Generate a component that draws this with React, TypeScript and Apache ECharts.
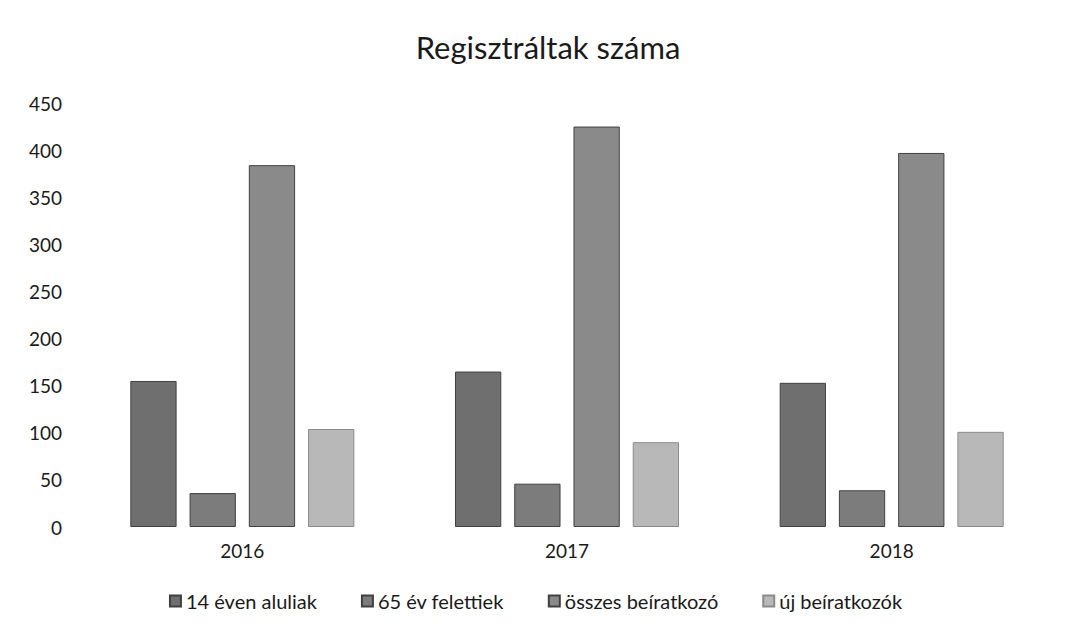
import React, { useEffect, useRef } from "react";
import * as echarts from "echarts";

const categories = ["2016", "2017", "2018"];
const seriesNames = ["14 éven aluliak", "65 év felettiek", "összes beíratkozó", "új beíratkozók"];
const under14 = [155, 165, 153];
const over65 = [36, 46, 39];
const totalEnrolled = [384, 425, 397];
const newEnrolled = [104, 90, 101];
const yTicks = { min: 0, max: 450, interval: 50 };
const colors = ["#6f6f6f", "#7c7c7c", "#8a8a8a", "#b8b8b8"];

export default function App() {
  const ref = useRef<HTMLDivElement>(null);
  useEffect(() => {
    document.body.style.margin = "0";
    if (!ref.current) return;
    const chart = echarts.init(ref.current, undefined, { renderer: "svg" });
    const data = [under14, over65, totalEnrolled, newEnrolled];
    const font = "Lato, 'Open Sans', sans-serif";
    chart.setOption({
      animation: false,
      backgroundColor: "#ffffff",
      title: {
        text: "Regisztráltak száma",
        left: 543,
        textAlign: "center",
        top: 26,
        textStyle: { fontFamily: font, fontSize: 31, fontWeight: "normal", color: "#1a1a1a" },
      },
      legend: {
        bottom: 26,
        left: "center",
        itemWidth: 11,
        itemHeight: 11,
        itemGap: 44,
        icon: "rect",
        textStyle: { fontFamily: font, fontSize: 20, color: "#1a1a1a" },
        data: seriesNames,
      },
      grid: { left: 80, right: 17, top: 103, bottom: 115, containLabel: false },
      xAxis: {
        type: "category",
        data: categories,
        axisLine: { show: false },
        axisTick: { show: false },
        axisLabel: { fontFamily: font, fontSize: 19, color: "#1a1a1a", margin: 14 },
      },
      yAxis: {
        type: "value",
        min: yTicks.min,
        max: yTicks.max,
        interval: yTicks.interval,
        axisLine: { show: false },
        axisTick: { show: false },
        splitLine: { show: false },
        axisLabel: { fontFamily: font, fontSize: 19, color: "#1a1a1a", margin: 18 },
      },
      series: seriesNames.map((name, i) => ({
        name,
        type: "bar",
        data: data[i],
        barGap: "28%",
        barCategoryGap: "31%",
        itemStyle: {
          color: colors[i],
          borderColor: i === 3 ? "#8a8a8a" : "#404040",
          borderWidth: 1,
        },
      })),
    });
    return () => chart.dispose();
  }, []);
  return <div ref={ref} style={{ width: 1071, height: 642 }} />;
}
